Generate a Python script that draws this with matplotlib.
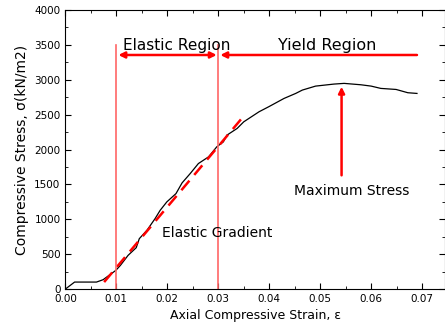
import matplotlib
matplotlib.use("Agg")
import matplotlib.pyplot as plt
from matplotlib.ticker import MultipleLocator

# stress-strain curve
strain = [0.0, 0.0018, 0.0061, 0.0074, 0.0099, 0.0108, 0.0123, 0.0139, 0.0145,
          0.0160, 0.0176, 0.0186, 0.0199, 0.0217, 0.0229, 0.0245, 0.0261, 0.0281,
          0.0297, 0.0310, 0.0317, 0.0337, 0.0350, 0.0380, 0.0399, 0.0429, 0.0452,
          0.0465, 0.0491, 0.0527, 0.0547, 0.0580, 0.0600, 0.0619, 0.0649, 0.0672,
          0.0690]
stress = [0, 100, 100, 134, 268, 340, 483, 593, 722,
          842, 1010, 1129, 1249, 1368, 1522, 1656, 1799, 1895,
          2038, 2110, 2206, 2302, 2397, 2541, 2613, 2732, 2804,
          2852, 2909, 2938, 2948, 2928, 2909, 2876, 2861, 2814,
          2804]

# elastic gradient fit line
fit_strain = [0.0076, 0.0350]
fit_stress = [100, 2480]

# region boundaries
bounds = [0.01, 0.03]

fig = plt.figure(figsize=(4.45, 3.33), dpi=100)
ax = fig.add_axes([0.147, 0.132, 0.853, 0.838])

ax.plot(strain, stress, color="black", lw=0.9)
ax.plot(fit_strain, fit_stress, color="red", lw=1.8, ls=(0, (5, 3)))

for b in bounds:
    ax.plot([b, b], [0, 3500], color="#ff6666", lw=1.2)

red = "#ff0000"
ax.annotate("", xy=(0.0104, 3355), xytext=(0.0297, 3355),
            arrowprops=dict(arrowstyle="<|-|>", color=red, lw=1.8,
                            mutation_scale=9, shrinkA=0, shrinkB=0))
ax.annotate("", xy=(0.0304, 3355), xytext=(0.0690, 3355),
            arrowprops=dict(arrowstyle="-|>", color=red, lw=1.8,
                            mutation_scale=9, shrinkA=0, shrinkB=0))
ax.annotate("", xy=(0.0542, 2900), xytext=(0.0542, 1630),
            arrowprops=dict(arrowstyle="-|>", color=red, lw=1.8,
                            mutation_scale=9, shrinkA=0, shrinkB=0))

ax.text(0.0219, 3490, "Elastic Region", fontsize=11, ha="center", va="center")
ax.text(0.0513, 3490, "Yield Region", fontsize=11.5, ha="center", va="center")
ax.text(0.0562, 1405, "Maximum Stress", fontsize=10, ha="center", va="center")
ax.text(0.0297, 805, "Elastic Gradient", fontsize=10, ha="center", va="center")

ax.set_xlim(0, 0.0745)
ax.set_ylim(0, 4000)
ax.xaxis.set_major_locator(MultipleLocator(0.01))
ax.xaxis.set_minor_locator(MultipleLocator(0.005))
ax.yaxis.set_major_locator(MultipleLocator(500))
ax.yaxis.set_minor_locator(MultipleLocator(250))
ax.set_xticklabels([f"{v:.2f}" for v in ax.get_xticks()])
ax.tick_params(which="both", direction="in", top=True, right=True, labelsize=7.5)
ax.tick_params(which="major", length=4)
ax.tick_params(which="minor", length=2)

ax.set_xlabel("Axial Compressive Strain, \u03b5", fontsize=9)
ax.set_ylabel("Compressive Stress, \u03c3(kN/m2)", fontsize=10)

fig.savefig("out.png", dpi=100)
